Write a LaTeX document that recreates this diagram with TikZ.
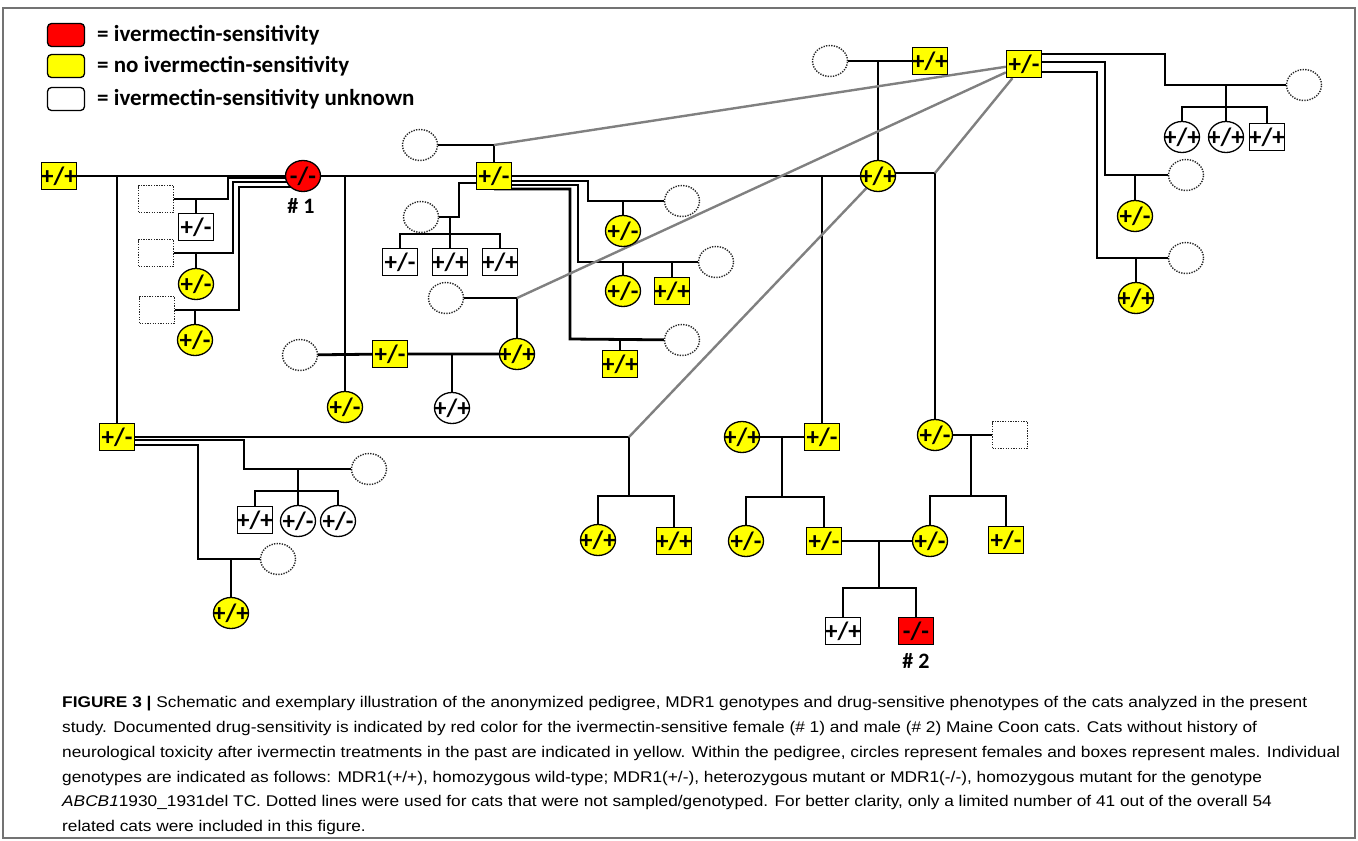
\documentclass[tikz,border=0pt]{standalone}
\usepackage{fontspec}
\setmainfont{Carlito}
\newfontfamily\capfont[FakeStretch=1.115]{Liberation Sans}
\usetikzlibrary{shapes.geometric, calc}
\definecolor{sensred}{RGB}{255,0,0}
\definecolor{noyel}{RGB}{255,255,0}
\definecolor{kingray}{RGB}{128,128,128}
\pgfdeclarelayer{bg}
\pgfsetlayers{bg,main}
\newcommand{\geno}[1]{\makebox[0pt]{#1}}
\tikzset{
  cat/.style={draw=black, line width=1.3pt, inner sep=0pt, font=\fontsize{25}{25}\selectfont\bfseries},
  male/.style={cat, rectangle, minimum width=35pt, minimum height=27pt},
  female/.style={cat, ellipse, minimum width=35pt, minimum height=31pt},
  yel/.style={fill=noyel},
  sens/.style={fill=sensred},
  unk/.style={fill=white},
  nsmale/.style={male, fill=white, draw=black!85, line width=1.4pt, dash pattern=on 1.3pt off 1.3pt},
  nsfemale/.style={female, fill=white, draw=black!85, line width=1.4pt, dash pattern=on 1.3pt off 1.3pt},
  legbox/.style={draw=black, line width=1.3pt, rounded corners=4pt, minimum width=37pt, minimum height=23pt},
  legtext/.style={anchor=west, inner sep=0pt, font=\fontsize{23}{23}\selectfont\bfseries},
  tag/.style={inner sep=0pt, font=\fontsize{22}{22}\selectfont\bfseries},
  link/.style={line width=2.8pt},
  kin/.style={draw=kingray, line width=2.4pt},
  captext/.style={anchor=base west, inner sep=0pt, font=\capfont\fontsize{15.5}{18}\selectfont}
}

\begin{document}
\begin{tikzpicture}[x=1pt, y=-1pt]
  \useasboundingbox (0,0) rectangle (1358,841);
  \draw[draw=black!55, line width=1.2pt] (3,8) rectangle (1355,838);

  % legend
  \node[legbox, fill=sensred] (legR) at (66,35) {};
  \node[legbox, fill=noyel] (legY) at (66,66) {};
  \node[legbox, fill=white] (legW) at (66,99) {};
  \node[legtext] (legRt) at (97,35) {= ivermectin-sensitivity};
  \node[legtext] (legYt) at (97,66) {= no ivermectin-sensitivity};
  \node[legtext] (legWt) at (97,99) {= ivermectin-sensitivity unknown};

  % founders
  \node[male, yel] (p1) at (59,176) {\geno{+/+}};
  \node[female, sens] (c1) at (303,176) {\geno{-/-}};
  \node[tag] (c1tag) at (301,206) {\# 1};
  \node[male, yel] (m2) at (494,176) {\geno{+/-}};
  \node[female, yel] (f3) at (878,176) {\geno{+/+}};
  \node[nsfemale] (u4) at (420,145) {};
  \node[nsfemale] (u5) at (830,61) {};
  \node[male, yel] (m5) at (930,61) {\geno{+/+}};
  \node[male, yel] (tr) at (1024,64) {\geno{+/-}};

  % right branch
  \node[nsfemale] (u8) at (1304,85) {};
  \node[female, unk] (w9a) at (1182,137) {\geno{+/+}};
  \node[female, unk] (w9b) at (1226,137) {\geno{+/+}};
  \node[male, unk] (w9c) at (1267,137) {\geno{+/+}};
  \node[nsfemale] (u10) at (1186,175) {};
  \node[female, yel] (y10) at (1135,216) {\geno{+/-}};
  \node[nsfemale] (u11) at (1186,258) {};
  \node[female, yel] (y11) at (1136,298) {\geno{+/+}};

  % offspring of #1
  \node[nsmale] (u6) at (156,199) {};
  \node[male, unk] (w7) at (196,227) {\geno{+/-}};
  \node[nsmale] (u20) at (156,253) {};
  \node[female, yel] (y20) at (196,284) {\geno{+/-}};
  \node[nsmale] (u21) at (157,310) {};
  \node[female, yel] (y21) at (195,340) {\geno{+/-}};

  % middle
  \node[female, yel] (y22) at (345,407) {\geno{+/-}};
  \node[nsfemale] (u23) at (300,355) {};
  \node[male, yel] (y24) at (390,354) {\geno{+/-}};
  \node[female, yel] (y25) at (517,354) {\geno{+/+}};
  \node[female, unk] (w26) at (452,408) {\geno{+/+}};
  \node[nsfemale] (u27) at (446,298) {};
  \node[nsfemale] (u28) at (421,217) {};
  \node[male, unk] (w29a) at (400,262) {\geno{+/-}};
  \node[male, unk] (w29b) at (450,262) {\geno{+/+}};
  \node[male, unk] (w29c) at (500,262) {\geno{+/+}};
  \node[nsfemale] (u30) at (682,201) {};
  \node[female, yel] (y31) at (623,231) {\geno{+/-}};
  \node[nsfemale] (u32) at (716,262) {};
  \node[female, yel] (y33a) at (623,291) {\geno{+/-}};
  \node[male, yel] (y33b) at (672,291) {\geno{+/+}};
  \node[nsfemale] (u34) at (682,340) {};
  \node[male, yel] (y35) at (620,364) {\geno{+/+}};

  % lower left
  \node[male, yel] (b1) at (117,437) {\geno{+/-}};
  \node[nsfemale] (u36) at (369,469) {};
  \node[male, unk] (w37a) at (255,520) {\geno{+/+}};
  \node[female, unk] (w37b) at (298,521) {\geno{+/-}};
  \node[female, unk] (w37c) at (338,521) {\geno{+/-}};
  \node[nsfemale] (u38) at (278,559) {};
  \node[female, yel] (y39) at (231,613) {\geno{+/+}};

  % lower right
  \node[female, yel] (y14a) at (598,540) {\geno{+/+}};
  \node[male, yel] (y14b) at (674,541) {\geno{+/+}};
  \node[female, yel] (y15) at (742,437) {\geno{+/+}};
  \node[male, yel] (y13) at (822,437) {\geno{+/-}};
  \node[female, yel] (y16a) at (746,541) {\geno{+/-}};
  \node[male, yel] (y16b) at (824,541) {\geno{+/-}};
  \node[female, yel] (y12) at (935,435) {\geno{+/-}};
  \node[nsmale] (u17) at (1010,435) {};
  \node[female, yel] (y18a) at (930,541) {\geno{+/-}};
  \node[male, yel] (y18b) at (1006,540) {\geno{+/-}};
  \node[male, unk] (w19) at (843,631) {\geno{+/+}};
  \node[male, sens] (r19) at (916,631) {\geno{-/-}};
  \node[tag] (r19tag) at (916,661) {\# 2};

  \coordinate (j1) at (629,437);
  \coordinate (s14) at (629,496);
  \coordinate (s16) at (782,497);
  \coordinate (s18) at (971,496);
  \coordinate (s19) at (879,588);
  \coordinate (j3) at (935,173);

  \begin{pgfonlayer}{bg}
  \begin{scope}[link]
    \draw (p1) -- (c1) -- (m2) -- (f3);
    \draw (b1) -- (b1 |- p1);
    \draw (y22) -- (y22 |- c1);
    \draw (y13) -- (y13 |- f3);
    \draw (u4) -| (m2);
    \draw (u5) -- (m5);
    \draw (f3) -- (f3 |- u5);
    \draw (f3 |- j3) -- (j3) -- (y12);
    % top right male
    \draw ([yshift=10pt]tr.center) -| (1165,85) -- (u8);
    \draw (w9b) -- (w9b |- u8);
    \draw (w9a) -- ++(0,-30) -| (w9c);
    \draw ([yshift=2pt]tr.center) -| (1105,175) -- (u10);
    \draw (y10) -- (y10 |- u10);
    \draw ([yshift=-8pt]tr.center) -| (1097,258) -- (u11);
    \draw (y11) -- (y11 |- u11);
    % #1 with other mates
    \draw ([yshift=-2pt]c1.center) -| (228,199) -- (u6);
    \draw (w7) -- (w7 |- u6);
    \draw ([yshift=-6pt]c1.center) -| (233,253) -- (u20);
    \draw (y20) -- (y20 |- u20);
    \draw ([yshift=-11pt]c1.center) -| (239,310) -- (u21);
    \draw (y21) -- (y21 |- u21);
    \draw (u23) -- (y24) -- (y25);
    \draw (w26) -- (w26 |- y24);
    \draw (u27) -| (y25);
    % m2 with other mates
    \draw ([yshift=-7pt]m2.center) -| (459,217) -- (u28);
    \draw (w29b) -- (w29b |- u28);
    \draw (w29a) -- ++(0,-28) -| (w29c);
    \draw ([yshift=-5pt]m2.center) -| (588,201) -- (u30);
    \draw (y31) -- (y31 |- u30);
    \draw ([yshift=-9pt]m2.center) -| (578,262) -- (u32);
    \draw (y33a) -- (y33a |- u32);
    \draw (y33b) -- (y33b |- u32);
    \draw ([yshift=-13pt]m2.center) -| (570,339) -- (u34);
    \draw (y35) -- (y35 |- u34);
    % b1
    \draw (b1) -- (j1) -- (s14);
    \draw (y14a) |- (s14) -| (y14b);
    \draw ([yshift=-3pt]b1.center) -| (244,469) -- (u36);
    \draw (w37b) -- (w37b |- u36);
    \draw (w37a) -- ++(0,-29) -| (w37c);
    \draw ([yshift=-8pt]b1.center) -| (198,559) -- (u38);
    \draw (y39) -- (y39 |- u38);
    % lower right
    \draw (y15) -- (y13);
    \draw (s16) -- (s16 |- y13);
    \draw (y16a) |- (s16) -| (y16b);
    \draw (y12) -- (u17);
    \draw (s18) -- (s18 |- y12);
    \draw (y18a) |- (s18) -| (y18b);
    \draw (y16b) -- (y18a);
    \draw (s19) -- (s19 |- y16b);
    \draw (w19) |- (s19) -| (r19);
  \end{scope}
    \draw[kin] (m2 |- u4) -- (tr);
    \draw[kin] (y25 |- u27) -- (tr);
    \draw[kin] (j3) -- (tr);
    \draw[kin] (j1) -- (f3);
  \end{pgfonlayer}

  % caption
  \node[captext] (cap1) at (62,707) {\textbf{FIGURE 3 |} Schematic and exemplary illustration of the anonymized pedigree, MDR1 genotypes and drug-sensitive phenotypes of the cats analyzed in the present};
  \node[captext] (cap2) at (62,732) {study. Documented drug-sensitivity is indicated by red color for the ivermectin-sensitive female (\# 1) and male (\# 2) Maine Coon cats. Cats without history of};
  \node[captext] (cap3) at (62,757) {neurological toxicity after ivermectin treatments in the past are indicated in yellow. Within the pedigree, circles represent females and boxes represent males. Individual};
  \node[captext] (cap4) at (62,782) {genotypes are indicated as follows: MDR1(+/+), homozygous wild-type; MDR1(+/-), heterozygous mutant or MDR1(-/-), homozygous mutant for the genotype};
  \node[captext] (cap5) at (62,806) {\textit{ABCB1}1930\_1931del TC. Dotted lines were used for cats that were not sampled/genotyped. For better clarity, only a limited number of 41 out of the overall 54};
  \node[captext] (cap6) at (62,831) {related cats were included in this figure.};
\end{tikzpicture}
\end{document}
